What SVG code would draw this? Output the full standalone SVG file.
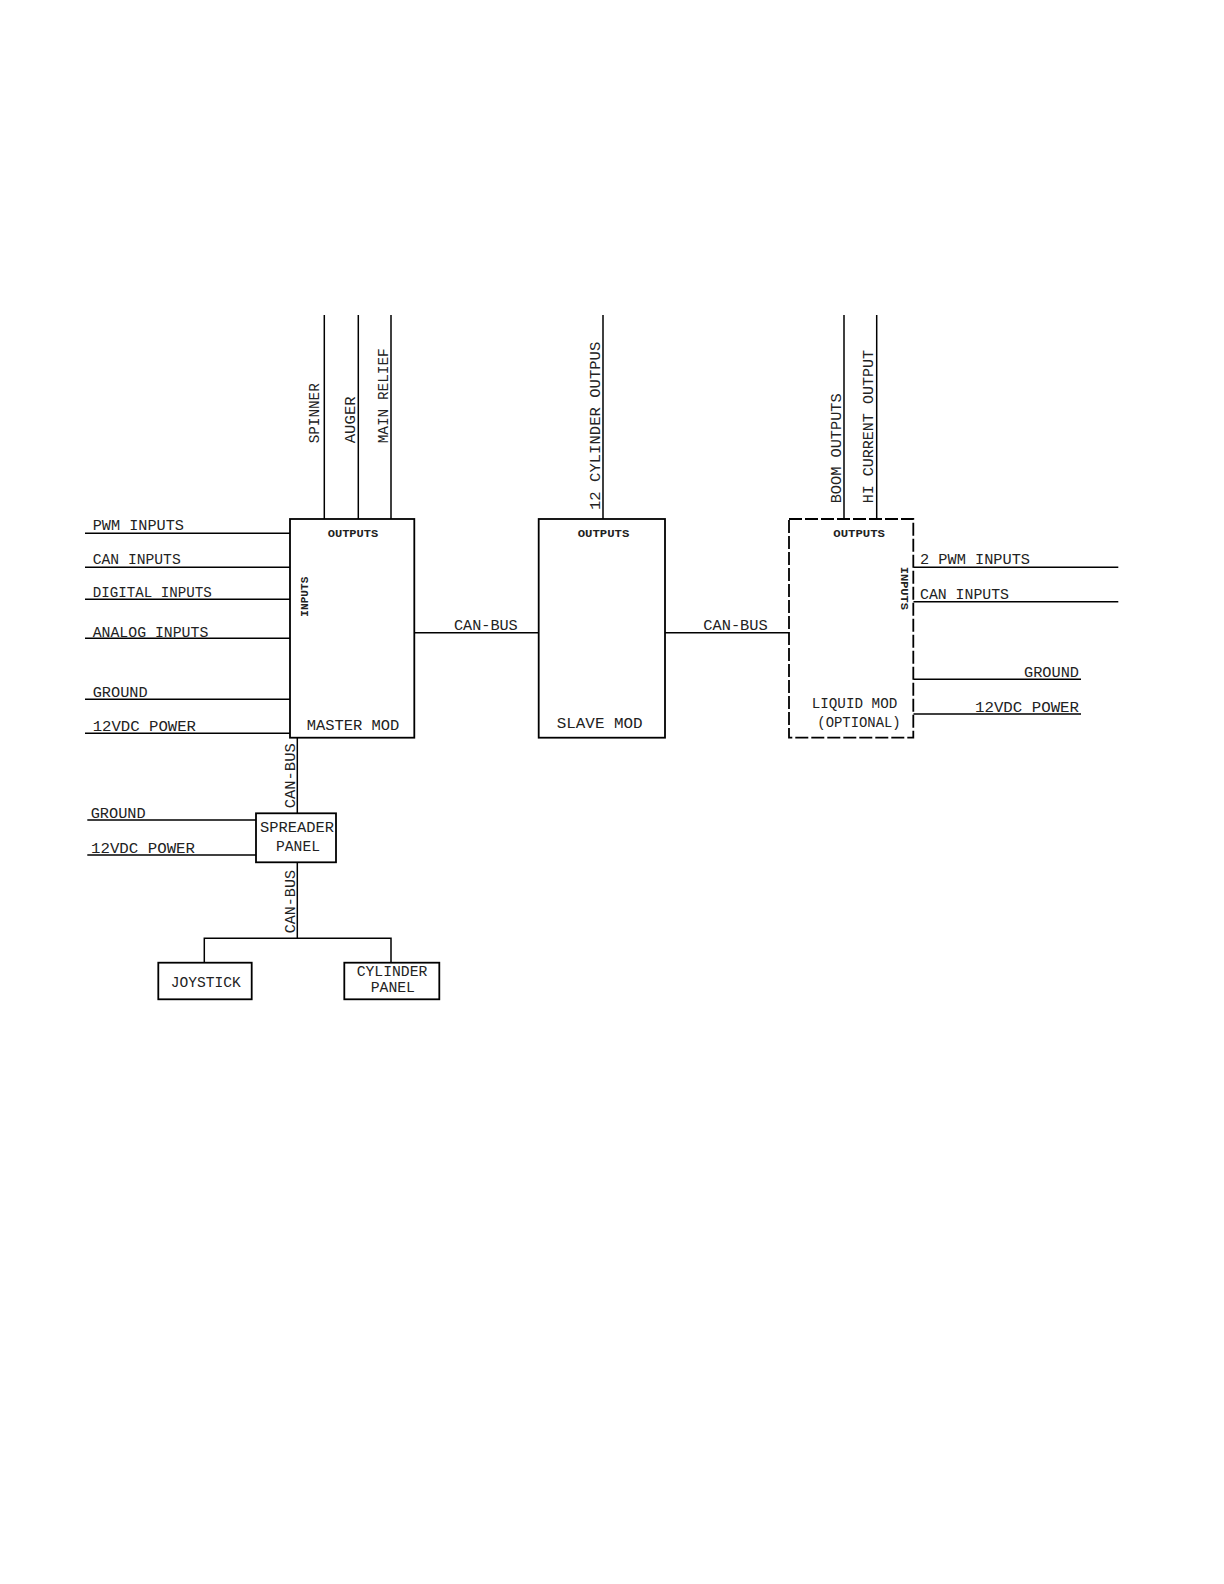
<svg xmlns="http://www.w3.org/2000/svg" width="1224" height="1584" viewBox="0 0 1224 1584">
<style>
.ln{stroke:#000;stroke-width:1.5;fill:none}
.bx{stroke:#000;stroke-width:1.8;fill:#fff}
.dbx{stroke:#000;stroke-width:1.8;fill:#fff;stroke-dasharray:13 3}
text{font-family:"Liberation Mono","DejaVu Sans Mono",monospace;fill:#222;font-size:14px}
.s{font-size:11px;font-weight:bold}
.b{font-size:15px}
</style>
<rect width="1224" height="1584" fill="#fff"/>
<g id="connectors">
<line class="ln" x1="85" y1="533.3" x2="290" y2="533.3"/>
<line class="ln" x1="85" y1="567.3" x2="290" y2="567.3"/>
<line class="ln" x1="85" y1="599.3" x2="290" y2="599.3"/>
<line class="ln" x1="85" y1="638.3" x2="290" y2="638.3"/>
<line class="ln" x1="85" y1="699.3" x2="290" y2="699.3"/>
<line class="ln" x1="85" y1="733.3" x2="290" y2="733.3"/>
<line class="ln" x1="324.3" y1="315" x2="324.3" y2="519"/>
<line class="ln" x1="358.3" y1="315" x2="358.3" y2="519"/>
<line class="ln" x1="391" y1="315" x2="391" y2="519"/>
<line class="ln" x1="603" y1="315" x2="603" y2="519"/>
<line class="ln" x1="844" y1="315" x2="844" y2="519"/>
<line class="ln" x1="876.7" y1="315" x2="876.7" y2="519"/>
<line class="ln" x1="414.3" y1="632.7" x2="538.7" y2="632.7"/>
<line class="ln" x1="665" y1="632.7" x2="789" y2="632.7"/>
<line class="ln" x1="913.3" y1="567.3" x2="1118.3" y2="567.3"/>
<line class="ln" x1="913.3" y1="601.7" x2="1118.3" y2="601.7"/>
<line class="ln" x1="913.3" y1="679.3" x2="1081" y2="679.3"/>
<line class="ln" x1="913.3" y1="714" x2="1081" y2="714"/>
<line class="ln" x1="297.3" y1="737.7" x2="297.3" y2="813.3"/>
<line class="ln" x1="87.3" y1="820" x2="256" y2="820"/>
<line class="ln" x1="87.3" y1="855" x2="256" y2="855"/>
<polyline class="ln" points="297.3,862.3 297.3,938.3"/>
<polyline class="ln" points="204.3,962.7 204.3,938.3 391,938.3 391,962.7"/>
</g>
<g id="labels">
<text x="92.7" y="530" textLength="91.3" lengthAdjust="spacingAndGlyphs">PWM INPUTS</text>
<text x="92.7" y="564" textLength="88" lengthAdjust="spacingAndGlyphs">CAN INPUTS</text>
<text x="92.7" y="596.7" textLength="119" lengthAdjust="spacingAndGlyphs">DIGITAL INPUTS</text>
<text x="92.7" y="636.7" textLength="115.6" lengthAdjust="spacingAndGlyphs">ANALOG INPUTS</text>
<text x="92.7" y="696.7" textLength="55" lengthAdjust="spacingAndGlyphs">GROUND</text>
<text x="92.7" y="731" textLength="103.3" lengthAdjust="spacingAndGlyphs">12VDC POWER</text>
<text transform="translate(319.3,443.3) rotate(-90)" textLength="60" lengthAdjust="spacingAndGlyphs">SPINNER</text>
<text transform="translate(355,443.3) rotate(-90)" textLength="47" lengthAdjust="spacingAndGlyphs">AUGER</text>
<text transform="translate(388.3,443.3) rotate(-90)" textLength="95" lengthAdjust="spacingAndGlyphs">MAIN RELIEF</text>
<text transform="translate(600,510) rotate(-90)" textLength="168.3" lengthAdjust="spacingAndGlyphs">12 CYLINDER OUTPUS</text>
<text transform="translate(841,503.3) rotate(-90)" textLength="110" lengthAdjust="spacingAndGlyphs">BOOM OUTPUTS</text>
<text transform="translate(873.3,503.3) rotate(-90)" textLength="153.3" lengthAdjust="spacingAndGlyphs">HI CURRENT OUTPUT</text>
<text x="454" y="630" textLength="63.7" lengthAdjust="spacingAndGlyphs">CAN-BUS</text>
<text x="703.3" y="630" textLength="64.4" lengthAdjust="spacingAndGlyphs">CAN-BUS</text>
<text x="920" y="564" textLength="110" lengthAdjust="spacingAndGlyphs">2 PWM INPUTS</text>
<text x="920" y="598.7" textLength="89" lengthAdjust="spacingAndGlyphs">CAN INPUTS</text>
<text x="1024" y="676.7" textLength="55" lengthAdjust="spacingAndGlyphs">GROUND</text>
<text x="975" y="711.7" textLength="104" lengthAdjust="spacingAndGlyphs">12VDC POWER</text>
<text transform="translate(295,808.3) rotate(-90)" textLength="65" lengthAdjust="spacingAndGlyphs">CAN-BUS</text>
<text transform="translate(295,933.3) rotate(-90)" textLength="63.3" lengthAdjust="spacingAndGlyphs">CAN-BUS</text>
<text x="90.7" y="818.3" textLength="55" lengthAdjust="spacingAndGlyphs">GROUND</text>
<text x="91" y="852.7" textLength="104" lengthAdjust="spacingAndGlyphs">12VDC POWER</text>
</g>
<g id="master">
<rect class="bx" x="290" y="519" width="124.3" height="218.7"/>
<text class="s" x="327.7" y="536.7" textLength="50.6" lengthAdjust="spacingAndGlyphs">OUTPUTS</text>
<text class="s" transform="translate(308,616.7) rotate(-90)" textLength="40" lengthAdjust="spacingAndGlyphs">INPUTS</text>
<text x="306.7" y="730" textLength="92.6" lengthAdjust="spacingAndGlyphs">MASTER MOD</text>
</g>
<g id="slave">
<rect class="bx" x="538.7" y="519" width="126.3" height="218.7"/>
<text class="s" x="577.7" y="536.7" textLength="51.6" lengthAdjust="spacingAndGlyphs">OUTPUTS</text>
<text x="556.7" y="728.3" textLength="86" lengthAdjust="spacingAndGlyphs">SLAVE MOD</text>
</g>
<g id="liquid">
<rect class="dbx" x="789" y="519" width="124.3" height="218.7"/>
<text class="s" x="833.3" y="536.7" textLength="51.7" lengthAdjust="spacingAndGlyphs">OUTPUTS</text>
<text class="s" transform="translate(900.5,566.7) rotate(90)" textLength="43.3" lengthAdjust="spacingAndGlyphs">INPUTS</text>
<text class="b" x="811.7" y="708.3" textLength="85.6" lengthAdjust="spacingAndGlyphs">LIQUID MOD</text>
<text x="817.3" y="726.7" textLength="83.4" lengthAdjust="spacingAndGlyphs">(OPTIONAL)</text>
</g>
<g id="spreader">
<rect class="bx" x="256" y="813.3" width="80" height="49"/>
<text x="260" y="831.7" textLength="74" lengthAdjust="spacingAndGlyphs">SPREADER</text>
<text x="276" y="850.7" textLength="44" lengthAdjust="spacingAndGlyphs">PANEL</text>
</g>
<g id="joystick">
<rect class="bx" x="158.3" y="962.7" width="93.4" height="36.6"/>
<text x="170.7" y="986.7" textLength="70" lengthAdjust="spacingAndGlyphs">JOYSTICK</text>
</g>
<g id="cylinder">
<rect class="bx" x="344.3" y="962.7" width="95" height="36.6"/>
<text x="356.7" y="976" textLength="70.6" lengthAdjust="spacingAndGlyphs">CYLINDER</text>
<text x="370.7" y="991.7" textLength="44.3" lengthAdjust="spacingAndGlyphs">PANEL</text>
</g>
</svg>
